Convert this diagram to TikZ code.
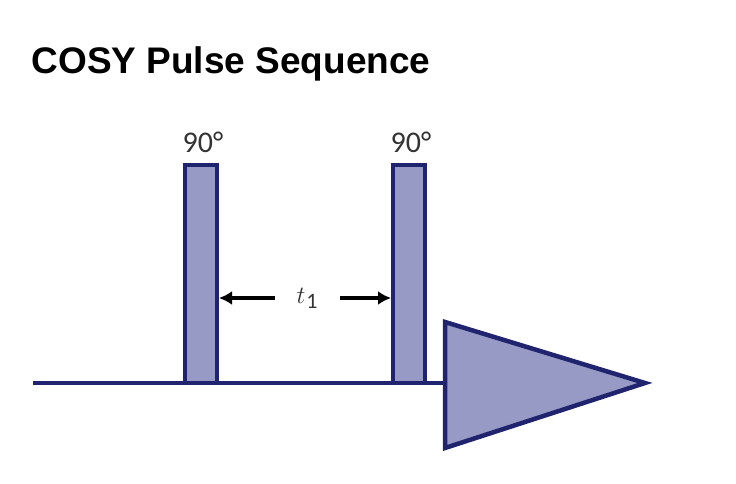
\documentclass[tikz,border=0pt]{standalone}
\usepackage{fontspec}
\setmainfont{Liberation Sans}
\newfontfamily\lblfont{Carlito}
\definecolor{navy}{RGB}{32,36,110}
\definecolor{lav}{RGB}{150,154,196}
\begin{document}
\begin{tikzpicture}[x=1pt,y=-1pt,
  pulse/.style={draw=navy,fill=lav,line width=4.5pt},
  lbl/.style={font=\lblfont\fontsize{30}{30}\selectfont,text=black!80},
  dim/.style={line width=4pt,-{Latex[length=13pt,width=14pt]},black}]
\usetikzlibrary{arrows.meta}
\useasboundingbox (0,0) rectangle (736,484);
\node[anchor=base west,font=\bfseries\fontsize{37}{37}\selectfont] (title) at (28,74) {COSY Pulse Sequence};
\draw[navy,line width=4.5pt] (33,383) coordinate (s) -- (445,383) coordinate (e);
\draw[pulse] (185,165) rectangle (217,383);
\draw[pulse] (393,165) rectangle (425,383);
\draw[pulse,line join=miter] (445,322) -- (645,383) -- (445,448) -- cycle;
\node[lbl] (a) at (203,142) {90°};
\node[lbl] (b) at (411,142) {90°};
\node[lbl] (t) at (307,298) {$t$\kern1pt\raisebox{-5pt}{\fontsize{22}{22}\selectfont 1}};
\coordinate (l) at (219,298);
\coordinate (r) at (391,298);
\draw[dim] (275,298) -- (l);
\draw[dim] (340,298) -- (r);
\end{tikzpicture}
\end{document}
